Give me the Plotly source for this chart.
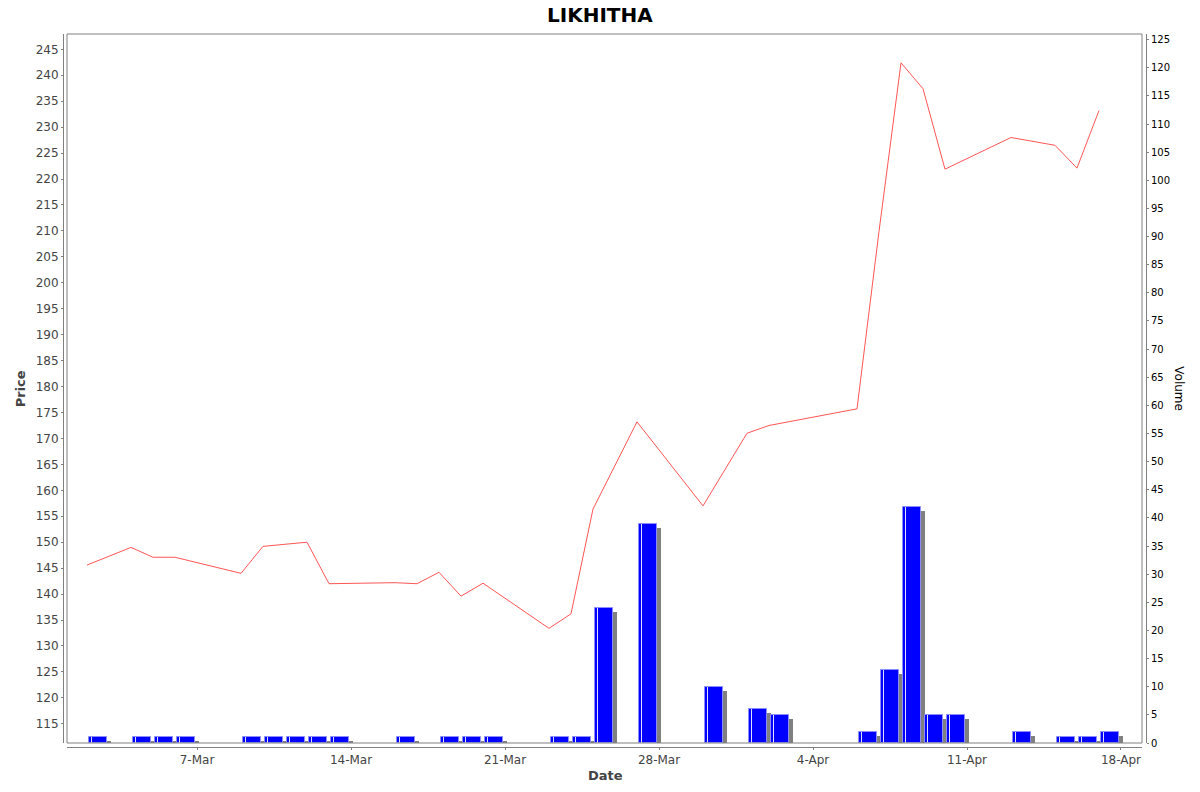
import plotly.graph_objects as go

# daily closes and traded volume
dates = ["2020-03-02", "2020-03-04", "2020-03-05", "2020-03-06", "2020-03-09",
         "2020-03-10", "2020-03-11", "2020-03-12", "2020-03-13", "2020-03-16",
         "2020-03-17", "2020-03-18", "2020-03-19", "2020-03-20", "2020-03-23",
         "2020-03-24", "2020-03-25", "2020-03-27", "2020-03-30", "2020-04-01",
         "2020-04-02", "2020-04-06", "2020-04-07", "2020-04-08", "2020-04-09",
         "2020-04-10", "2020-04-13", "2020-04-15", "2020-04-16", "2020-04-17"]
price = [145.6, 149.0, 147.1, 147.1, 144.0, 149.2, 149.6, 150.0, 142.0, 142.2,
         142.0, 144.2, 139.6, 142.1, 133.4, 136.2, 156.4, 173.2, 157.0, 171.0,
         172.5, 175.7, 209.9, 242.4, 237.4, 221.9, 228.0, 226.5, 222.1, 233.2]
volume = [1, 1, 1, 1, 1, 1, 1, 1, 1, 1,
          0, 1, 1, 1, 1, 1, 24, 39, 10, 6,
          5, 2, 13, 42, 5, 5, 2, 1, 1, 2]

DAY = 86400000  # ms
bar_dates = [d for d, v in zip(dates, volume) if v > 0]
bar_vols = [v for v in volume if v > 0]

# the page body has an 8px margin, so the figure is drawn 16px smaller
# and every reference pixel position is shifted by 8
PAGE = 8
W, H = 1200 - 2 * PAGE, 792 - 2 * PAGE
L, T = 63 - PAGE, 34 - PAGE
R, B = W - (1146 - PAGE), H - (747 - PAGE)
pw, ph = W - L - R, H - T - B
xdom = [4 / pw, (pw - 4) / pw]
ydom = [4 / ph, 1]


def px_x(x):
    return (x - PAGE - L) / pw


def px_y(y):
    return (H - B - (y - PAGE)) / ph


fig = go.Figure()

# gray drop shadow behind each volume bar
fig.add_trace(go.Bar(
    x=bar_dates, y=bar_vols, base=-0.71, yaxis="y2",
    offset=0.27 * DAY, width=0.8 * DAY,
    marker=dict(color="#808080", line=dict(width=0)),
    showlegend=False, hoverinfo="skip"))
fig.add_trace(go.Bar(
    x=bar_dates, y=bar_vols, yaxis="y2", name="Volume",
    offset=0.1 * DAY, width=0.8 * DAY,
    marker=dict(color="#0000ff", line=dict(color="#8c8cff", width=1)),
    showlegend=False))
# light stripe near the left edge of the bars
fig.add_trace(go.Bar(
    x=bar_dates, y=bar_vols, yaxis="y2",
    offset=0.19 * DAY, width=0.05 * DAY,
    marker=dict(color="rgba(235,235,255,0.95)", line=dict(width=0)),
    showlegend=False, hoverinfo="skip"))

fig.add_trace(go.Scatter(
    x=dates, y=price, mode="lines", name="Price",
    line=dict(color="#ff5555", width=1), showlegend=False))

axis_gray = "#808080"
fig.update_layout(
    width=W, height=H,
    margin=dict(l=L, r=R, t=T, b=B, pad=0),
    paper_bgcolor="white", plot_bgcolor="white",
    barmode="overlay", bargap=0,
    font=dict(family="DejaVu Sans", color="#444444"),
    xaxis=dict(
        type="date", domain=xdom, anchor="free", position=0,
        range=["2020-03-01 02:10", "2020-04-18 22:55"],
        tick0="2020-03-07", dtick=7 * DAY, tickformat="%-d-%b",
        showgrid=False, zeroline=False,
        showline=True, linecolor=axis_gray, linewidth=1,
        ticks="outside", ticklen=2, tickcolor=axis_gray,
        tickfont=dict(size=12, color="#444444")),
    yaxis=dict(
        domain=ydom, anchor="free", position=0, side="left",
        range=[111.3, 247.95], tick0=0, dtick=5,
        showgrid=False, zeroline=False,
        showline=True, linecolor=axis_gray, linewidth=1,
        ticks="outside", ticklen=2, tickcolor=axis_gray,
        tickfont=dict(size=12, color="#444444")),
    yaxis2=dict(
        domain=ydom, overlaying="y", anchor="free", position=1, side="right",
        range=[0, 126], tick0=0, dtick=5,
        showgrid=False, zeroline=False,
        showline=True, linecolor=axis_gray, linewidth=1,
        ticks="outside", ticklen=2, tickcolor=axis_gray,
        tickfont=dict(size=10, color="black")),
)

# plot outline, sitting inside the offset axis lines
fig.add_shape(type="rect", xref="paper", yref="paper",
              x0=xdom[0], x1=xdom[1], y0=ydom[0], y1=ydom[1],
              line=dict(color=axis_gray, width=1), layer="above")

# chart title and axis titles
fig.add_annotation(text="<b>LIKHITHA</b>", xref="paper", yref="paper",
                   x=px_x(600), y=px_y(15),
                   xanchor="center", yanchor="middle",
                   showarrow=False, font=dict(size=20, color="black"))
fig.add_annotation(text="<b>Price</b>", xref="paper", yref="paper",
                   x=px_x(20.7), y=px_y(388.6), textangle=-90,
                   xanchor="center", yanchor="middle",
                   showarrow=False, font=dict(size=13, color="#444444"))
fig.add_annotation(text="<b>Date</b>", xref="paper", yref="paper",
                   x=px_x(605), y=px_y(776),
                   xanchor="center", yanchor="middle",
                   showarrow=False, font=dict(size=13, color="#444444"))
fig.add_annotation(text="Volume", xref="paper", yref="paper",
                   x=px_x(1179.3), y=px_y(388.6), textangle=90,
                   xanchor="center", yanchor="middle",
                   showarrow=False, font=dict(size=12, color="black"))

fig.write_html("out.html")
